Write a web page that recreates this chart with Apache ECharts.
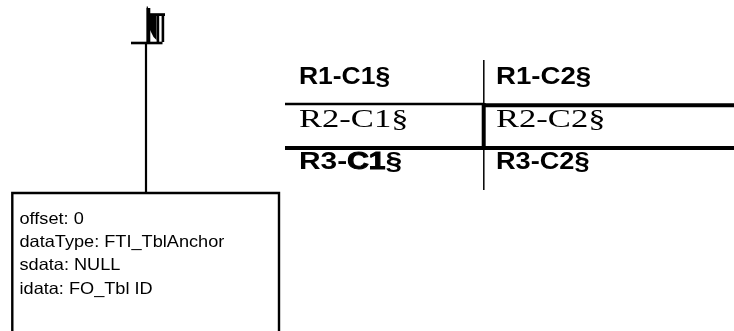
<!DOCTYPE html>
<html>
<head>
<meta charset="utf-8">
<script src="https://cdn.jsdelivr.net/npm/echarts@6/dist/echarts.min.js"></script>
<style>
html,body{margin:0;padding:0;background:#fff;}
#chart{width:734px;height:331px;}
</style>
</head>
<body>
<div id="chart"></div>
<script>
// ---- content ----
const tableCol1 = ['R1-C1§', 'R2-C1§', 'R3-{h|C1}§'];
const tableCol2 = ['R1-C2§', 'R2-C2§', 'R3-C2§'];
const rowFonts = ['bold', 'serif', 'bold'];
const infoLines = ['offset: 0', 'dataType: FTI_TblAnchor', 'sdata: NULL', 'idata: FO_Tbl ID'];

// ---- layout ----
const colX = [299, 496];
const rowCenter = [77.3, 119.7, 163];
const scaleCol1 = [1.15, 1.33, 1.3];
const scaleCol2 = [1.2, 1.33, 1.18];
const infoX = 19.5, infoTop = 219.2, infoStep = 23.3;

const fontFor = f => f === 'serif'
  ? {fontFamily: '"Liberation Serif", "Times New Roman", serif', fontSize: 26, fontWeight: 'normal'}
  : {fontFamily: '"Liberation Sans", Arial, sans-serif', fontSize: 23, fontWeight: 'bold'};

const elements = [];
const line = (x1, y1, x2, y2, w) => elements.push({
  type: 'line', shape: {x1, y1, x2, y2}, style: {stroke: '#000', lineWidth: w}
});
const rect = (x, y, width, height) => elements.push({
  type: 'rect', shape: {x, y, width, height}, style: {fill: '#000'}
});

// table rules
line(483.8, 60, 483.8, 190, 1.5);
line(285, 104, 483.8, 104, 2.6);
line(482, 105.2, 734, 105.2, 4);
line(483.7, 103, 483.7, 150, 4);
line(285, 147.9, 734, 147.9, 4);

// table text
[tableCol1, tableCol2].forEach((col, ci) => {
  col.forEach((t, ri) => {
    elements.push({
      type: 'text',
      x: colX[ci], y: rowCenter[ri],
      scaleX: (ci === 0 ? scaleCol1 : scaleCol2)[ri],
      style: Object.assign({
        text: t, fill: '#000',
        align: 'left', verticalAlign: 'middle',
        rich: {h: Object.assign({fill: '#000', stroke: '#000', lineWidth: 1}, fontFor('bold'))}
      }, fontFor(rowFonts[ri]))
    });
  });
});

// anchor symbol
line(131, 43, 162.5, 43, 2.6);
line(146, 43, 146, 193, 2.2);
line(147.3, 6.5, 147.3, 43, 1.2);
rect(146.5, 8, 3.8, 34);
rect(150, 13.2, 15, 2.8);
elements.push({type: 'polygon', shape: {points: [[150, 14], [156.5, 14], [156.5, 40], [153.5, 37], [150, 30]]}, style: {fill: '#000'}});
rect(156.6, 14, 2.6, 28);
rect(161.6, 14, 2.6, 28);

// info box
elements.push({type: 'rect', shape: {x: 12.3, y: 193, width: 266.7, height: 160}, style: {fill: 'none', stroke: '#000', lineWidth: 2.4}});
infoLines.forEach((t, i) => {
  elements.push({
    type: 'text', x: infoX, y: infoTop + i * infoStep, scaleX: 1.1,
    style: {text: t, fontFamily: '"Liberation Sans", Arial, sans-serif', fontSize: 16.5, fontWeight: 'normal',
      fill: '#000', align: 'left', verticalAlign: 'middle'}
  });
});

const chart = echarts.init(document.getElementById('chart'), null, {renderer: 'canvas'});
chart.setOption({
  backgroundColor: '#fff',
  animation: false,
  graphic: {elements}
});
</script>
</body>
</html>
